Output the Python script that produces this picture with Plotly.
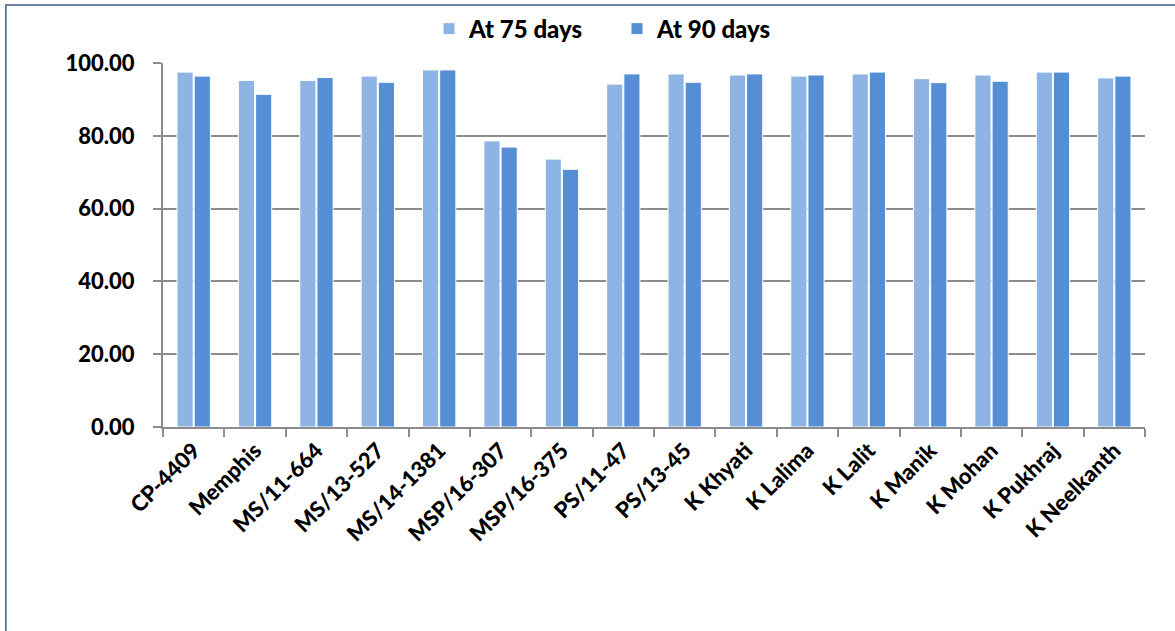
import plotly.graph_objects as go

categories = ["CP-4409", "Memphis", "MS/11-664", "MS/13-527", "MS/14-1381", "MSP/16-307",
              "MSP/16-375", "PS/11-47", "PS/13-45", "K Khyati", "K Lalima", "K Lalit",
              "K Manik", "K Mohan", "K Pukhraj", "K Neelkanth"]
at_75_days = [97.5, 95.2, 95.2, 96.4, 98.1, 78.6, 73.6, 94.2, 97.0, 96.7, 96.4, 97.0, 95.7, 96.7, 97.5, 95.9]
at_90_days = [96.4, 91.4, 96.0, 94.7, 98.1, 76.9, 70.8, 97.0, 94.7, 97.0, 96.7, 97.5, 94.6, 95.0, 97.5, 96.4]
y_ticks = [0, 20, 40, 60, 80, 100]

FONT = "Lato"

fig = go.Figure()
fig.add_trace(go.Bar(name="At 75 days", x=categories, y=at_75_days,
                     marker=dict(color="#8EB4E3", line=dict(color="white", width=1))))
fig.add_trace(go.Bar(name="At 90 days", x=categories, y=at_90_days,
                     marker=dict(color="#558ED5", line=dict(color="white", width=1))))

fig.update_layout(
    width=1175, height=631,
    margin=dict(l=163, r=30, t=63, b=204, autoexpand=False),
    paper_bgcolor="white", plot_bgcolor="white",
    barmode="group", bargap=0.44, bargroupgap=0.06,
    font=dict(family=FONT, color="black"),
    showlegend=True,
    legend=dict(orientation="h", xref="container", yref="container",
                x=429 / 1175, xanchor="left", y=0.954, yanchor="middle",
                bgcolor="rgba(0,0,0,0)", entrywidth=143, entrywidthmode="pixels",
                font=dict(size=24, family=FONT, weight=900),
                itemwidth=30, traceorder="normal"),
    xaxis=dict(type="category", tickson="boundaries", ticks="outside", ticklen=8,
               tickcolor="#8c8c8c", tickwidth=2, showline=True, linecolor="#8c8c8c",
               linewidth=2, tickangle=-45, automargin=False,
               tickfont=dict(size=22, family=FONT, weight=900), showgrid=False),
    yaxis=dict(range=[0, 100], tickvals=y_ticks, tickformat=".2f", ticks="outside",
               ticklen=8, tickcolor="#8c8c8c", tickwidth=2, showline=True,
               linecolor="#8c8c8c", linewidth=2, showgrid=True, gridcolor="#8c8c8c",
               gridwidth=2, zeroline=False, automargin=False, ticklabelstandoff=14,
               tickfont=dict(size=22, family=FONT, weight=900)),
    shapes=[dict(type="rect", xref="paper", yref="paper", x0=-0.16, x1=1.2,
                 y0=-0.8, y1=1.159, line=dict(color="#3B5A88", width=1.5),
                 fillcolor="rgba(0,0,0,0)", layer="below")],
)

fig.write_html("out.html", config={"displayModeBar": False},
               post_script="document.body.style.margin='0';")
